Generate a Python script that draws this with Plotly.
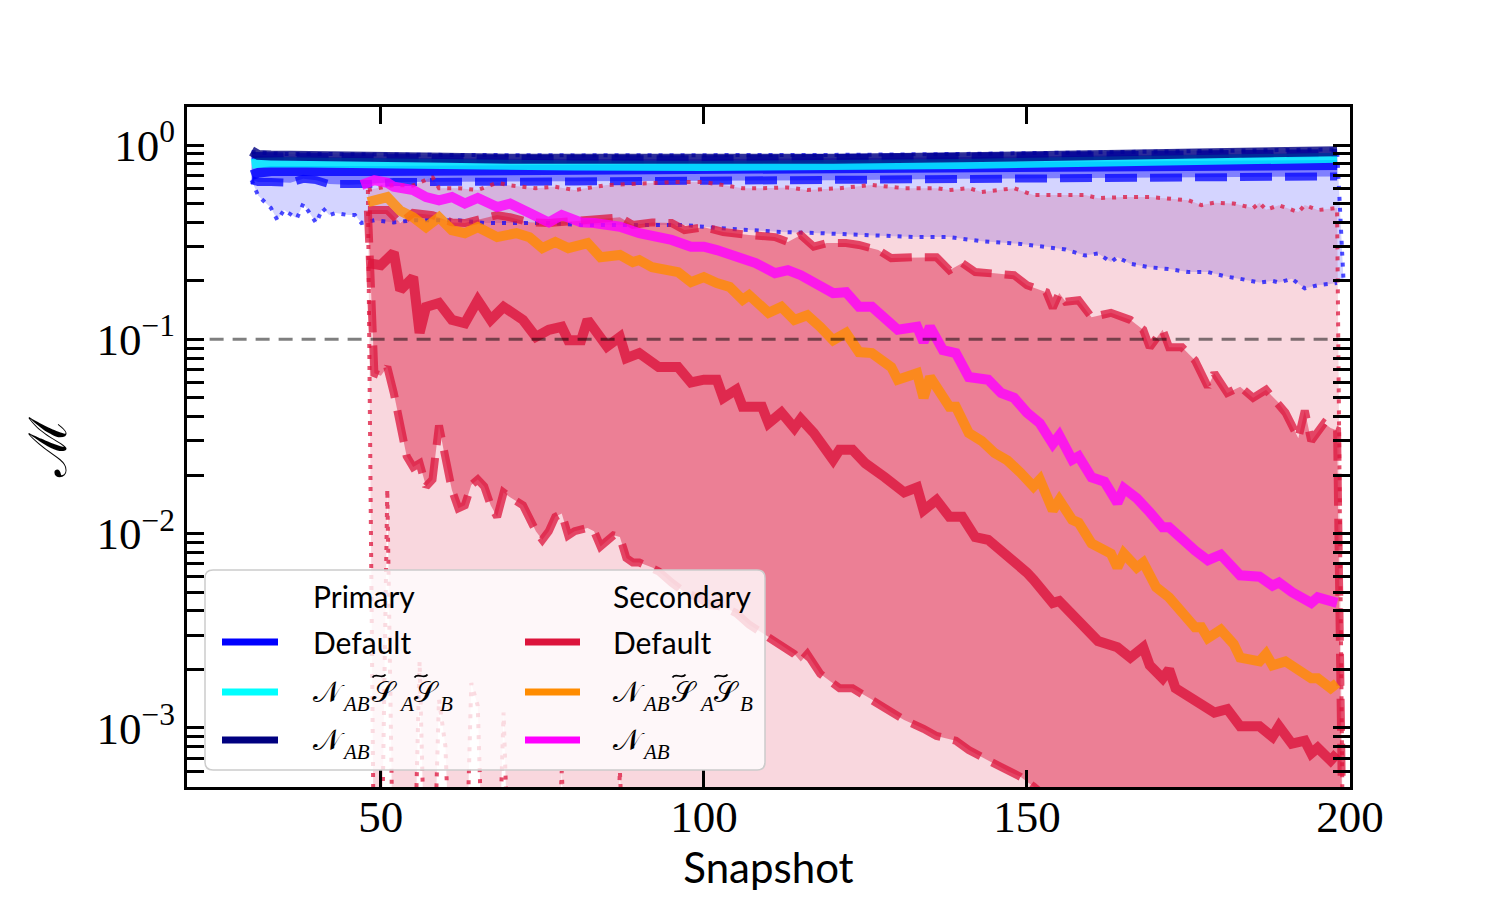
import plotly.graph_objects as go

# ---------------- data ----------------
# Primary (blue family)
NAVY_X = [30, 31, 33, 36, 40, 43, 46, 50, 55, 60, 70, 80, 100, 120, 140, 160, 180, 198]
NAVY_Y = [0.93, 0.89, 0.885, 0.88, 0.875, 0.885, 0.87, 0.87, 0.865, 0.86, 0.85, 0.845, 0.84, 0.85, 0.865, 0.885, 0.905, 0.93]

CYAN_X = [30, 31, 35, 40, 50, 60, 80, 100, 120, 140, 160, 180, 198]
CYAN_Y = [0.80, 0.81, 0.815, 0.81, 0.80, 0.795, 0.785, 0.78, 0.785, 0.80, 0.82, 0.84, 0.86]

BMED_X = [30, 31, 33, 36, 40, 45, 50, 60, 80, 100, 120, 140, 160, 180, 198]
BMED_Y = [0.70, 0.72, 0.735, 0.74, 0.735, 0.735, 0.735, 0.74, 0.74, 0.745, 0.75, 0.76, 0.77, 0.78, 0.79]

BDU_X = [30, 40, 50, 70, 100, 130, 160, 198]
BDU_Y = [0.88, 0.87, 0.86, 0.85, 0.845, 0.86, 0.88, 0.91]
BDL_X = [30, 31, 33, 36, 38, 40, 42, 45, 48, 52, 60, 70, 80, 100, 120, 140, 160, 180, 198]
BDL_Y = [0.66, 0.645, 0.645, 0.64, 0.67, 0.66, 0.63, 0.625, 0.63, 0.645, 0.65, 0.65, 0.65, 0.655, 0.66, 0.67, 0.68, 0.685, 0.69]

BTU_X = [30, 35, 40, 50, 60, 80, 100, 120, 140, 160, 180, 198, 199]
BTU_Y = [0.92, 0.90, 0.90, 0.89, 0.89, 0.885, 0.885, 0.89, 0.90, 0.92, 0.935, 0.95, 0.2]
BTL_X = [30, 31, 33, 34, 35, 37, 38, 39, 40, 41, 42, 43, 45, 46, 47, 49, 52, 55, 62, 66,
         76, 81, 97, 102, 107, 112, 118, 128, 133, 138, 143, 149, 153, 156, 159, 161, 163, 164, 166, 169,
         172, 175, 178, 181, 183, 186, 188, 189, 191, 193, 195, 197, 198]
BTL_Y = [0.66, 0.55, 0.474, 0.41, 0.463, 0.42, 0.50, 0.447, 0.397, 0.474, 0.436, 0.447, 0.436, 0.436, 0.397, 0.41, 0.40, 0.41, 0.41, 0.397,
         0.397, 0.388, 0.388, 0.374, 0.365, 0.357, 0.352, 0.34, 0.336, 0.336, 0.32, 0.31, 0.30, 0.29, 0.27, 0.277, 0.25, 0.265, 0.245, 0.235,
         0.23, 0.222, 0.222, 0.21, 0.205, 0.196, 0.20, 0.196, 0.205, 0.183, 0.19, 0.193, 0.195]

# Secondary (red family)
RMED_X = [48, 50, 52, 53, 55, 56, 57, 59, 61, 63, 65, 67, 69, 72, 74, 76, 78, 79, 81, 82,
          85, 87, 88, 90, 93, 96, 98, 100, 102, 103, 105, 106, 109, 110, 112, 114, 115, 117, 120, 121,
          123, 125, 128, 131, 133, 134, 136, 138, 140, 142, 144, 147, 148, 150, 151, 154, 155, 159, 161, 164,
          166, 168, 169, 171, 172, 173, 176, 179, 181, 183, 186, 188, 189, 191, 193, 194, 195, 197, 198]
RMED_Y = [0.247, 0.241, 0.28, 0.179, 0.209, 0.108, 0.147, 0.154, 0.126, 0.121, 0.159, 0.126, 0.147, 0.126, 0.103, 0.112, 0.116, 0.099, 0.099, 0.126,
          0.092, 0.103, 0.080, 0.085, 0.072, 0.072, 0.060, 0.062, 0.062, 0.050, 0.055, 0.045, 0.045, 0.037, 0.042, 0.035, 0.039, 0.033, 0.024, 0.027,
          0.027, 0.023, 0.0195, 0.0163, 0.0173, 0.0132, 0.0149, 0.0122, 0.0122, 0.0096, 0.0093, 0.0077, 0.0073, 0.0063, 0.0058, 0.0044, 0.0045, 0.0033, 0.0028, 0.0026,
          0.0023, 0.0026, 0.0021, 0.0018, 0.0020, 0.0016, 0.0014, 0.0012, 0.00125, 0.00102, 0.00102, 0.00090, 0.00102, 0.00083, 0.00086, 0.00074, 0.00079, 0.00068, 0.00074]

ORA_X = [48, 51, 53, 55, 57, 59, 61, 63, 65, 68, 71, 73, 75, 77, 79, 82, 84, 87, 89, 90,
         92, 96, 98, 100, 102, 104, 106, 107, 110, 112, 114, 116, 118, 120, 122, 124, 126, 129, 130, 133,
         134, 135, 138, 139, 141, 143, 145, 147, 149, 151, 152, 154, 155, 157, 158, 160, 163, 164, 165, 167,
         168, 170, 172, 174, 176, 177, 178, 180, 182, 183, 186, 187, 188, 190, 192, 194, 195, 197, 198]
ORA_Y = [0.509, 0.54, 0.46, 0.425, 0.378, 0.425, 0.365, 0.352, 0.378, 0.336, 0.352, 0.336, 0.295, 0.317, 0.295, 0.313, 0.265, 0.272, 0.25, 0.256,
         0.235, 0.222, 0.197, 0.209, 0.195, 0.186, 0.16, 0.169, 0.137, 0.147, 0.126, 0.133, 0.116, 0.099, 0.108, 0.086, 0.085, 0.072, 0.062, 0.067,
         0.050, 0.064, 0.045, 0.045, 0.033, 0.030, 0.026, 0.0238, 0.0206, 0.0175, 0.019, 0.0132, 0.0149, 0.0118, 0.0114, 0.0089, 0.0079, 0.0067, 0.0079, 0.0067,
         0.0071, 0.0053, 0.0047, 0.0040, 0.0033, 0.0033, 0.0029, 0.0032, 0.0027, 0.0023, 0.0022, 0.0024, 0.0021, 0.0022, 0.0020, 0.0018, 0.0018, 0.0016, 0.0017]

MAG_X = [47, 49, 51, 52, 55, 57, 59, 61, 63, 65, 68, 70, 73, 76, 78, 81, 83, 87, 90, 93,
         95, 98, 100, 102, 105, 108, 111, 113, 115, 117, 120, 122, 124, 126, 128, 130, 133, 134, 135, 137,
         139, 141, 144, 146, 148, 150, 152, 154, 155, 157, 158, 160, 162, 164, 165, 167, 169, 171, 172, 174,
         176, 178, 180, 183, 186, 188, 189, 191, 194, 195, 198]
MAG_Y = [0.623, 0.66, 0.64, 0.61, 0.587, 0.54, 0.52, 0.54, 0.50, 0.534, 0.48, 0.50, 0.447, 0.40, 0.436, 0.40, 0.397, 0.38, 0.352, 0.336,
         0.325, 0.30, 0.30, 0.288, 0.265, 0.247, 0.219, 0.227, 0.214, 0.195, 0.173, 0.175, 0.147, 0.147, 0.126, 0.112, 0.116, 0.097, 0.116, 0.088,
         0.085, 0.064, 0.062, 0.053, 0.050, 0.042, 0.037, 0.029, 0.032, 0.024, 0.025, 0.0195, 0.0185, 0.0144, 0.0171, 0.0152, 0.0129, 0.0108, 0.0108, 0.0093,
         0.0082, 0.0073, 0.0078, 0.0061, 0.0060, 0.0054, 0.0056, 0.0050, 0.0044, 0.0047, 0.0044]

RDU_X = [48, 51, 53, 55, 58, 61, 63, 68, 70, 73, 76, 82, 87, 89, 92, 95, 97, 100, 103, 107,
         111, 113, 115, 117, 119, 122, 124, 127, 129, 133, 136, 138, 140, 142, 145, 148, 150, 153, 154, 155,
         156, 158, 160, 163, 166, 168, 169, 171, 172, 174, 176, 178, 179, 181, 183, 185, 187, 189, 190, 192,
         193, 194, 196, 197, 198, 199]
RDU_Y = [0.463, 0.463, 0.397, 0.447, 0.436, 0.40, 0.397, 0.436, 0.425, 0.40, 0.397, 0.41, 0.425, 0.388, 0.40, 0.397, 0.365, 0.378, 0.357, 0.344,
         0.336, 0.317, 0.344, 0.30, 0.313, 0.313, 0.306, 0.288, 0.262, 0.265, 0.265, 0.227, 0.247, 0.222, 0.219, 0.214, 0.19, 0.175, 0.145, 0.173,
         0.156, 0.159, 0.13, 0.137, 0.126, 0.112, 0.091, 0.112, 0.091, 0.091, 0.078, 0.057, 0.067, 0.053, 0.057, 0.050, 0.055, 0.047, 0.042, 0.031,
         0.043, 0.030, 0.037, 0.035, 0.034, 0.0001]

RDL_X = [48, 49, 50, 51, 52, 53, 54, 55, 56, 57, 58, 59, 60, 61, 62, 63, 64, 65, 66, 67,
         68, 69, 70, 72, 74, 75, 76, 77, 78, 79, 80, 82, 83, 84, 86, 87, 88, 89, 90, 92,
         93, 95, 97, 99, 101, 103, 105, 107, 109, 111, 114, 115, 116, 118, 121, 123, 126, 129, 131, 134,
         136, 139, 141, 144, 147, 149, 151, 153, 160, 170, 180, 190, 199]
RDL_Y = [0.46, 0.067, 0.065, 0.072, 0.053, 0.037, 0.025, 0.022, 0.023, 0.0175, 0.019, 0.036, 0.024, 0.0168, 0.0135, 0.014, 0.0178, 0.019, 0.0175, 0.014,
         0.0122, 0.0163, 0.0154, 0.014, 0.0103, 0.0093, 0.0103, 0.0122, 0.0127, 0.0098, 0.0103, 0.0107, 0.0103, 0.0086, 0.0098, 0.0096, 0.0075, 0.0071, 0.0071, 0.0067,
         0.0064, 0.0056, 0.0050, 0.0047, 0.0043, 0.0042, 0.0039, 0.0034, 0.0031, 0.0028, 0.0024, 0.0022, 0.0024, 0.0019, 0.0016, 0.0016, 0.0014, 0.0012, 0.0011, 0.00099,
         0.00091, 0.00086, 0.00077, 0.00068, 0.00060, 0.00056, 0.00050, 0.00044, 0.00033, 0.00022, 0.00015, 0.0001, 0.00005]

RTU_X = [48, 52, 55, 58, 59, 62, 65, 68, 70, 74, 77, 80, 85, 90, 95, 100, 106, 109, 113, 116,
         121, 126, 131, 136, 138, 141, 143, 148, 151, 154, 159, 161, 165, 169, 175, 177, 179, 182, 185, 186,
         187, 189, 192, 193, 195, 198, 199]
RTU_Y = [0.587, 0.623, 0.62, 0.685, 0.60, 0.60, 0.587, 0.64, 0.62, 0.60, 0.61, 0.587, 0.623, 0.635, 0.645, 0.645, 0.60, 0.60, 0.605, 0.587,
         0.60, 0.623, 0.60, 0.60, 0.587, 0.60, 0.574, 0.60, 0.553, 0.553, 0.553, 0.533, 0.54, 0.54, 0.52, 0.491, 0.505, 0.50, 0.474, 0.505,
         0.465, 0.49, 0.452, 0.491, 0.463, 0.474, 0.0001]
RTL_X = [48, 49, 50, 51, 52, 55, 56, 57, 58, 59, 60, 61, 63, 64, 65, 66, 68, 69, 70, 77, 78, 79, 86, 87, 88, 199]
RTL_Y = [0.587, 0.0001, 0.0001, 0.017, 0.0001, 0.0001, 0.0022, 0.0001, 0.0001, 0.0014, 0.0008, 0.0001, 0.0001, 0.0017, 0.0013, 0.0001,
         0.0001, 0.0012, 0.0001, 0.0001, 0.0006, 0.0001, 0.0001, 0.0006, 0.0001, 0.0001]

THRESH = 0.1
THRESH_X = [23.5, 198.5]

X_TICKS = [50, 100, 150, 200]
Y_TICKS = [1e-3, 1e-2, 1e-1, 1]
Y_TICKTEXT = ["10<sup>\u22123</sup>", "10<sup>\u22122</sup>", "10<sup>\u22121</sup>", "10<sup>0</sup>"]

# ---------------- styling ----------------
BLUE = "0,0,255"
CRIMSON = "220,20,60"
W, H = 1500, 900
L, R, T, B = 187, 1350, 107, 787


def px(x):
    return (x - L) / (R - L)


def py(y):
    return (B - y) / (B - T)


fig = go.Figure()


def band(xu, yu, xl, yl, color):
    fig.add_trace(go.Scatter(x=list(xu) + list(xl)[::-1], y=list(yu) + list(yl)[::-1],
                             mode="lines", fill="toself", fillcolor=color,
                             line=dict(width=0), hoverinfo="skip", showlegend=False))


def line(x, y, color, width, dash="solid"):
    fig.add_trace(go.Scatter(x=x, y=y, mode="lines",
                             line=dict(color=color, width=width, dash=dash),
                             hoverinfo="skip", showlegend=False))


band(BTU_X, BTU_Y, BTL_X, BTL_Y, f"rgba({BLUE},0.17)")
band(BDU_X, BDU_Y, BDL_X, BDL_Y, f"rgba({BLUE},0.40)")
band(RTU_X, RTU_Y, RTL_X, RTL_Y, f"rgba({CRIMSON},0.17)")
band(RDU_X, RDU_Y, RDL_X, RDL_Y, f"rgba({CRIMSON},0.45)")

DOT = "4px,7px"
DASH = "32px,13px"
line(BTU_X, BTU_Y, f"rgba({BLUE},0.7)", 4, DOT)
line(BTL_X, BTL_Y, f"rgba({BLUE},0.7)", 4, DOT)
line(BDU_X, BDU_Y, f"rgba({BLUE},0.75)", 8, DASH)
line(BDL_X, BDL_Y, f"rgba({BLUE},0.75)", 8, DASH)
line(RTU_X, RTU_Y, f"rgba({CRIMSON},0.75)", 4, DOT)
line(RTL_X, RTL_Y, f"rgba({CRIMSON},0.75)", 4, DOT)
line(RDU_X, RDU_Y, f"rgba({CRIMSON},0.75)", 8, DASH)
line(RDL_X, RDL_Y, f"rgba({CRIMSON},0.75)", 8, DASH)

MW = 10
line(BMED_X, BMED_Y, f"rgba({BLUE},0.8)", MW)
line(CYAN_X, CYAN_Y, "rgba(0,255,255,0.8)", MW)
line(NAVY_X, NAVY_Y, "rgba(0,0,128,0.8)", MW)
line(RMED_X, RMED_Y, f"rgba({CRIMSON},0.8)", MW)
line(ORA_X, ORA_Y, "rgba(255,140,0,0.8)", MW)
line(MAG_X, MAG_Y, "rgba(255,0,255,0.8)", MW)

line(THRESH_X, [THRESH, THRESH], "rgba(0,0,0,0.5)", 3, "14px,9px")

# ---------------- legend (drawn by hand) ----------------
bx0, bx1, by0, by1, rad = 205, 765, 570, 770, 8
path = (f"M {px(bx0+rad)},{py(by0)} L {px(bx1-rad)},{py(by0)} Q {px(bx1)},{py(by0)} {px(bx1)},{py(by0+rad)} "
        f"L {px(bx1)},{py(by1-rad)} Q {px(bx1)},{py(by1)} {px(bx1-rad)},{py(by1)} "
        f"L {px(bx0+rad)},{py(by1)} Q {px(bx0)},{py(by1)} {px(bx0)},{py(by1-rad)} "
        f"L {px(bx0)},{py(by0+rad)} Q {px(bx0)},{py(by0)} {px(bx0+rad)},{py(by0)} Z")
shapes = [dict(type="path", xref="paper", yref="paper", path=path,
               fillcolor="rgba(255,255,255,0.8)", line=dict(color="rgba(204,204,204,1)", width=1.5),
               layer="above")]
annotations = []


def txt(x, y, s, size, family="Lato", anchor="left"):
    annotations.append(dict(x=px(x), y=py(y), xref="paper", yref="paper", text=s, showarrow=False,
                            xanchor=anchor, yanchor="middle",
                            font=dict(family=family, size=size, color="black")))


def tilde(cx, cy):
    # math accent drawn as a small wave
    p = (f"M {px(cx-6.5)},{py(cy+1.5)} C {px(cx-3)},{py(cy-4)} {px(cx+3)},{py(cy+4)} {px(cx+6.5)},{py(cy-1.5)}")
    shapes.append(dict(type="path", xref="paper", yref="paper", path=p,
                       line=dict(color="black", width=1.8), layer="above"))


SCRIPT_N = "\U0001D4A9"
SCRIPT_S = "\U0001D4AE"
MATH = "DejaVu Serif"


def math_nss(x0, yc):
    # N_AB S~_A S~_B, glyph by glyph
    txt(x0, yc, SCRIPT_N, 29, MATH)
    txt(x0 + 29, yc + 12, "<i>AB</i>", 21, "Liberation Serif")
    txt(x0 + 59, yc, SCRIPT_S, 29, MATH)
    txt(x0 + 86, yc + 12, "<i>A</i>", 21, "Liberation Serif")
    txt(x0 + 101, yc, SCRIPT_S, 29, MATH)
    txt(x0 + 127, yc + 12, "<i>B</i>", 21, "Liberation Serif")
    tilde(x0 + 68, yc - 16)
    tilde(x0 + 110, yc - 16)


def math_nab(x0, yc):
    txt(x0, yc, SCRIPT_N, 29, MATH)
    txt(x0 + 29, yc + 12, "<i>AB</i>", 21, "Liberation Serif")


cols = [
    (222, 278, 311, "Primary", ["blue", "cyan", "navy"]),
    (525, 580, 611, "Secondary", ["crimson", "darkorange", "magenta"]),
]
rows_y = [642, 692, 740]
for lx0, lx1, tx, head, colors in cols:
    txt(tx, 596, head, 30)
    for col, ry in zip(colors, rows_y):
        shapes.append(dict(type="line", xref="paper", yref="paper", x0=px(lx0), x1=px(lx1), y0=py(ry), y1=py(ry),
                           line=dict(color=col, width=7), layer="above"))
    txt(tx, rows_y[0], "Default", 30)
    math_nss(tx, rows_y[1])
    math_nab(tx, rows_y[2])

axis_common = dict(showline=True, linecolor="black", linewidth=3, mirror="allticks",
                   ticks="inside", ticklen=17, tickwidth=2.5, tickcolor="black",
                   showgrid=False, zeroline=False)

fig.update_layout(
    width=W, height=H, autosize=False,
    margin=dict(l=L, r=W - R, t=T, b=H - B),
    plot_bgcolor="white", paper_bgcolor="white",
    showlegend=False,
    shapes=shapes, annotations=annotations,
    xaxis=dict(range=[20, 200], tickvals=X_TICKS, ticktext=[str(v) for v in X_TICKS],
               tickfont=dict(family="Liberation Serif", size=45, color="black"),
               ticklabelstandoff=-12,
               title=dict(text="Snapshot", font=dict(family="Lato", size=42, color="black"), standoff=8),
               **axis_common),
    yaxis=dict(type="log", range=[-3.304, 0.196], tickvals=Y_TICKS, ticktext=Y_TICKTEXT,
               tickfont=dict(family="Liberation Serif", size=45, color="black"),
               title=dict(text="\u2133", font=dict(family="DejaVu Serif", size=52, color="black"), standoff=14),
               minor=dict(ticks="inside", ticklen=17, tickwidth=2.5, tickcolor="black", showgrid=False,
                          tickvals=[m * 10.0 ** e for e in range(-4, 1) for m in range(2, 10)]),
               **axis_common),
)

fig.write_html("out.html")
